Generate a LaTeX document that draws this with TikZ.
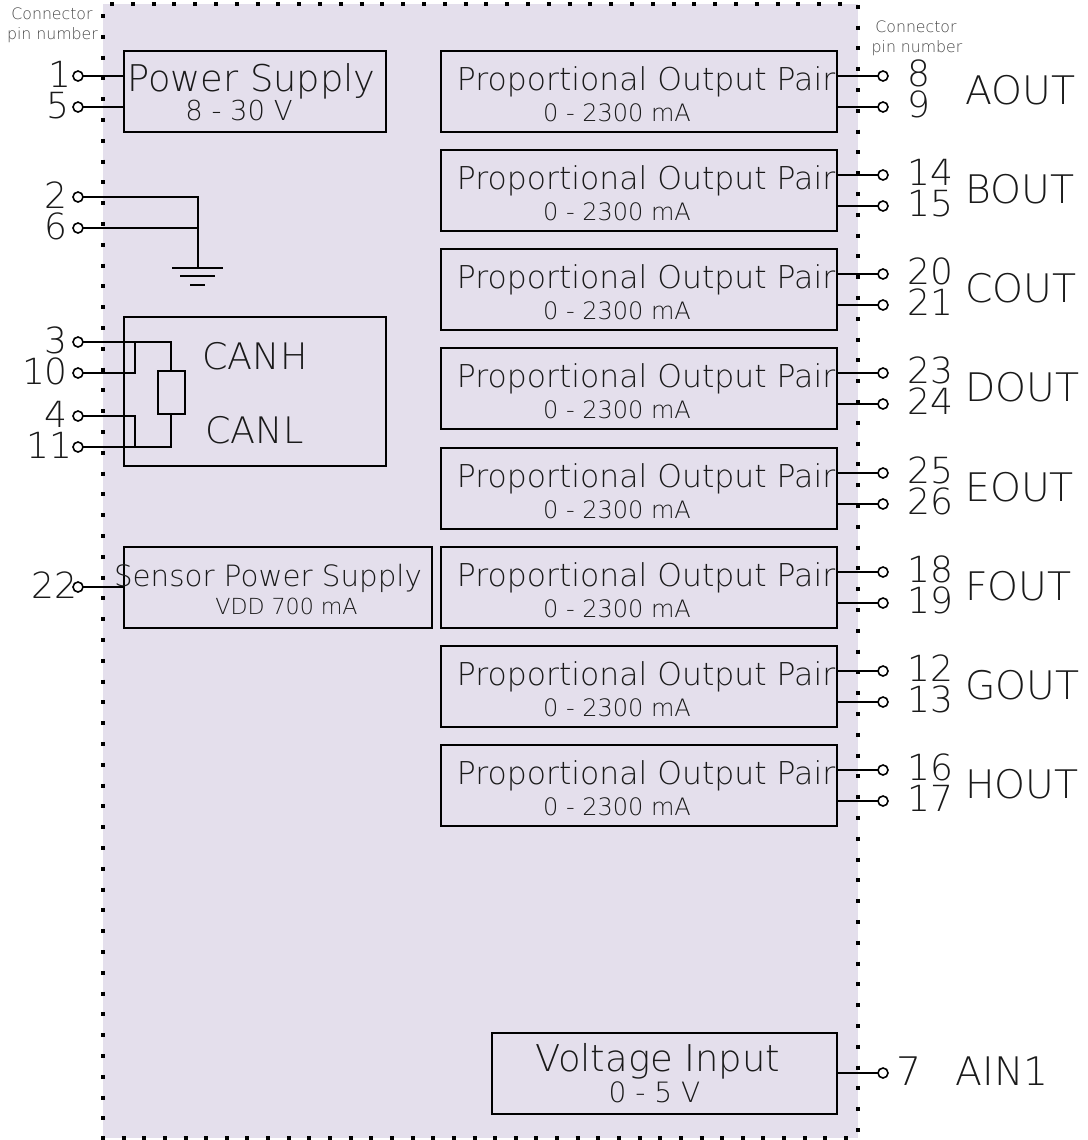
\documentclass[tikz,border=0pt]{standalone}
\usepackage{fontspec}
\setmainfont{DejaVu Sans ExtraLight}
\definecolor{panel}{HTML}{E4DFEC}
\definecolor{inkc}{HTML}{1A1A1A}
\definecolor{notec}{HTML}{444444}
\newcommand{\fsz}[1]{\fontsize{#1}{#1}\selectfont}
\tikzset{
 x=0.75pt,y=-0.75pt,
 box/.style={draw=black,line width=1.5pt,fill=none,inner sep=0pt,outer sep=0pt},
 wire/.style={draw=black,line width=1.5pt},
 pin/.style={circle,draw=black,fill=white,line width=1.2pt,minimum size=7.5pt,inner sep=0pt,outer sep=0pt},
 big/.style={inkc,anchor=base,inner sep=0pt,font=\fsz{27.6}},
 num/.style={inkc,anchor=base,inner sep=0pt,font=\fsz{27}},
 lab/.style={inkc,anchor=base,inner sep=0pt,font=\fsz{29.5}},
 mid/.style={inkc,anchor=base,inner sep=0pt,font=\fsz{23.6}},
 sml/.style={inkc,anchor=base,inner sep=0pt,font=\fsz{18}},
 note/.style={notec,anchor=base,inner sep=0pt,font=\fsz{11.8}},
 dots/.style={draw=black,line width=3pt,dash pattern=on 3pt off 12.6pt},
}
\begin{document}
\begin{tikzpicture}
\useasboundingbox (0,0) rectangle (1088,1140);
\fill[panel] (103,4) rectangle (858,1138);
\draw[dots,dash phase=10.35pt] (103,4) -- (858,4);
\draw[dots,dash phase=15pt] (858,4) -- (858,1138);
\draw[dots,dash phase=8.1pt] (103,4) -- (103,1132);
\draw[draw=black,line width=3pt,dash pattern=on 3pt off 12.48pt] (101,1138) -- (850,1138);

% boxes
\node[box,minimum width=196.5pt,minimum height=60.75pt,anchor=north west] (power) at (124,51) {};
\node[box,minimum width=196.5pt,minimum height=111.75pt,anchor=north west] (can) at (124,317) {};
\node[box,minimum width=231pt,minimum height=60.75pt,anchor=north west] (sensor) at (124,547) {};
\node[box,minimum width=258.6pt,minimum height=60.75pt,anchor=north west] (volt) at (492,1033) {};
\node[box,minimum width=20pt,minimum height=32pt,anchor=north west] (res) at (158,371) {};

\node[big] (tpower) at (251.5,91) {Power Supply};
\node[sml,font=\fsz{20.6}] (tpowerv) at (239,120) {8 - 30 V};
\node[big,font=\fsz{27.4}] (tcanh) at (255,369) {CANH};
\node[big,font=\fsz{27.4}] (tcanl) at (254.5,443) {CANL};
\node[mid,font=\fsz{22}] (tsensor) at (268,586) {Sensor Power Supply};
\node[sml,font=\fsz{16.6}] (tsensorv) at (286.5,614) {VDD 700 mA};
\node[big,font=\fsz{27.7}] (tvolt) at (658,1071) {Voltage Input};
\node[sml,font=\fsz{21}] (tvoltv) at (654.5,1102) {0 - 5 V};

% notes
\node[note] (nl1) at (52,19) {Connector};
\node[note] (nl2) at (52.5,39) {pin number};
\node[note] (nr1) at (916,32) {Connector};
\node[note] (nr2) at (917,52) {pin number};

% output pairs
\foreach \nm/\top/\pa/\pb/\lab in {
 a/51/8/9/AOUT, b/150/14/15/BOUT, c/249/20/21/COUT, d/348/23/24/DOUT,
 e/448/25/26/EOUT, f/547/18/19/FOUT, g/646/12/13/GOUT, h/745/16/17/HOUT}{
  \node[box,minimum width=297pt,minimum height=60.75pt,anchor=north west] (out\nm) at (441,\top) {};
  \node[mid] (t\nm) at (646,\top+39) {Proportional Output Pair};
  \node[sml] (v\nm) at (617,\top+70) {0 - 2300 mA};
  \node[pin] (p\nm a) at (883,\top+25) {};
  \node[pin] (p\nm b) at (883,\top+56) {};
  \draw[wire] (out\nm.east |- p\nm a) -- (p\nm a);
  \draw[wire] (out\nm.east |- p\nm b) -- (p\nm b);
  \node[num,anchor=base west] (n\nm a) at (907,\top+35.5) {\pa};
  \node[num,anchor=base west] (n\nm b) at (907,\top+66.5) {\pb};
  \node[lab,anchor=base west] (l\nm) at (965,\top+53.5) {\lab};
}

% left pins
\foreach \nm/\yy/\lab/\xx in {1/76/1/60, 5/107/5/57.5, 2/197/2/56, 6/228/6/56, 3/342/3/56, 10/373/10/45, 4/416/4/56, 11/447/11/49.5, 22/587/22/54.5}{
  \node[pin] (pin\nm) at (78,\yy) {};
  \node[num] (num\nm) at (\xx,\yy+11.3) {\lab};
}
\node[pin] (pin7) at (883,1073) {};
\node[lab] (num7) at (909.5,1085) {7};
\node[lab] (ain) at (1002,1085) {AIN1};

% connectors
\draw[wire] (pin1) -- (power.west |- pin1);
\draw[wire] (pin5) -- (power.west |- pin5);
\draw[wire] (pin22) -- (sensor.west |- pin22);
\draw[wire] (volt.east |- pin7) -- (pin7);

\coordinate (gnd) at (198,267);
\coordinate (g1l) at (172,267.5); \coordinate (g1r) at (223,267.5);
\coordinate (g2l) at (180,276); \coordinate (g2r) at (215,276);
\coordinate (g3l) at (190,285); \coordinate (g3r) at (205,285);
\draw[wire] (pin2) -| (gnd);
\draw[wire] (pin6) -- (gnd |- pin6);
\draw[wire] (g1l) -- (g1r);
\draw[wire] (g2l) -- (g2r);
\draw[wire] (g3l) -- (g3r);

\draw[wire] (pin3) -| (res.north);
\draw[wire] (pin11) -| (res.south);
\coordinate (j1) at (135,342);
\coordinate (j2) at (135,447);
\draw[wire] (pin10) -| (j1);
\draw[wire] (pin4) -| (j2);
\end{tikzpicture}
\end{document}
